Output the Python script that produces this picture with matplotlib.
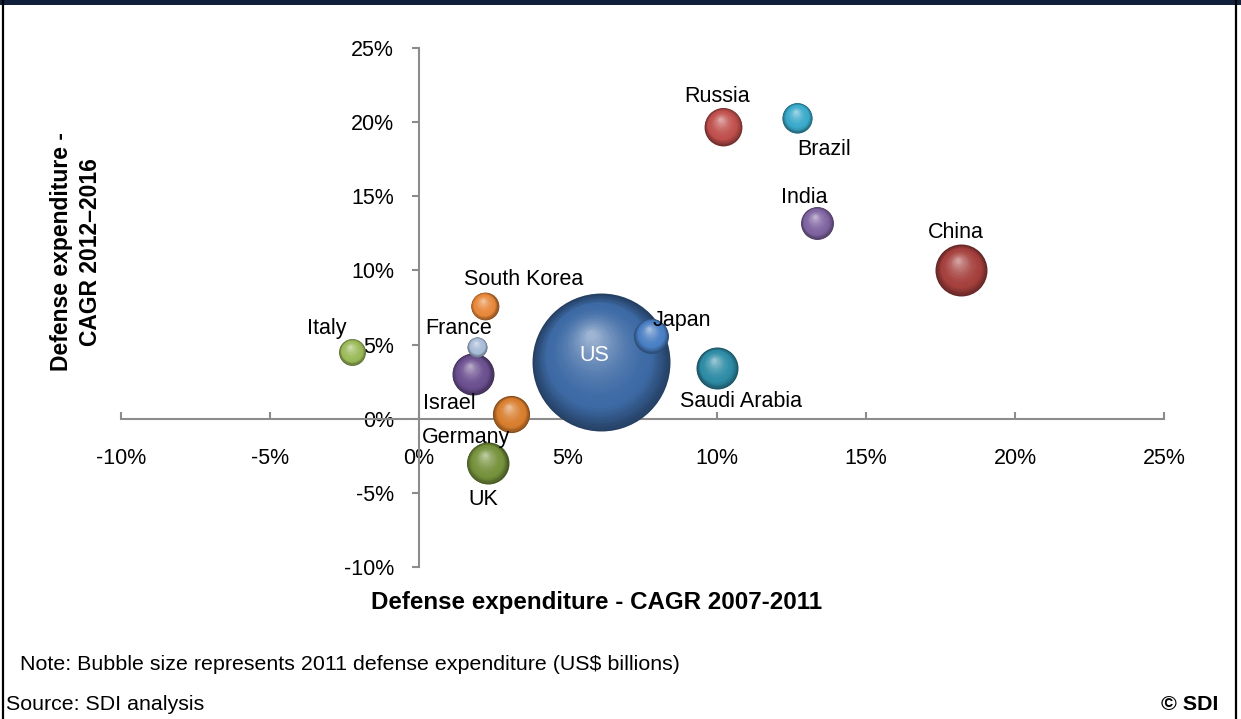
import matplotlib
matplotlib.use("Agg")
import matplotlib.pyplot as plt
import matplotlib.transforms as mtransforms
from matplotlib.colors import to_rgb
from matplotlib.patches import Rectangle
from matplotlib.lines import Line2D
import numpy as np

plt.rcParams['font.family'] = ['Liberation Sans', 'DejaVu Sans']

# ---------------------------------------------------------------
# Data: CAGR 2007-2011 (x), CAGR 2012-2016 (y), 2011 spend (US$ bn)
# ---------------------------------------------------------------
countries = ["US", "China", "Saudi Arabia", "UK", "Israel", "Russia", "Germany",
             "Japan", "India", "Brazil", "South Korea", "Italy", "France"]
cagr_2007_2011 = [6.1, 18.2, 10.0, 2.3, 1.8, 10.2, 3.1, 7.8, 13.35, 12.7, 2.2, -2.25, 1.95]
cagr_2012_2016 = [3.8, 10.0, 3.4, -3.0, 3.0, 19.7, 0.3, 5.6, 13.2, 20.3, 7.6, 4.5, 4.85]
spend_2011 = [690, 98, 64, 64, 64, 52, 50, 44, 39, 33, 28, 26, 14.5]

colors = ['#3d6aa5', '#a5403d', '#2e8ca6', '#76923c', '#6b4f8f', '#c0504d', '#d97e2e',
          '#4a7fc4', '#8064a2', '#3aaacb', '#e8883a', '#9bbb59', '#a8bcd8']

# label offsets in points from the bubble centre
label_offsets = {
    "US": (-5, 5), "China": (-4, 27), "Saudi Arabia": (17, -24), "UK": (-3, -26),
    "Israel": (-17, -21), "Russia": (-4, 22), "Germany": (-33, -17), "Japan": (22, 11),
    "India": (-9, 18), "Brazil": (19, -23), "South Korea": (28, 19), "Italy": (-18, 17),
    "France": (-13, 13),
}

ticks = [-10, -5, 0, 5, 10, 15, 20, 25]
AXIS_GREY = '#8c8c8c'
SIZE_SCALE = 14.3   # marker area (pt^2) per US$ bn


def mix(c1, c2, t):
    c1, c2 = np.array(to_rgb(c1)), np.array(to_rgb(c2))
    return tuple(c1 + (c2 - c1) * t)


def shade(base, t):
    """colour of a sphere layer: dark rim -> base -> light highlight"""
    dark = mix(base, '#000000', 0.4)
    light = mix(base, '#ffffff', 0.5)
    if t < 0.25:
        return mix(dark, base, t / 0.25)
    return mix(base, light, ((t - 0.25) / 0.75) ** 1.8)


def draw_bubble(ax, fig, x, y, s, base, n=40):
    r_pt = np.sqrt(s) / 2.0
    hx, hy = -0.15, 0.42   # highlight direction (fraction of radius)
    for k in range(n):
        t = k / (n - 1)
        f = 1.0 - 0.93 * t
        dx = (1.0 - f) * r_pt * hx
        dy = (1.0 - f) * r_pt * hy
        trans = mtransforms.offset_copy(ax.transData, fig=fig, x=dx, y=dy, units='points')
        ax.scatter([x], [y], s=s * f * f, color=shade(base, t), linewidths=0,
                   transform=trans, zorder=3)


fig = plt.figure(figsize=(12.41, 7.19), dpi=100)
ax = fig.add_axes([0.0975, 0.2114, 0.8405, 0.7218])
ax.set_xlim(-10, 25)
ax.set_ylim(-10, 25)

# axes crossing at the origin
for side in ('top', 'right'):
    ax.spines[side].set_visible(False)
ax.spines['left'].set_position(('data', 0))
ax.spines['bottom'].set_position(('data', 0))
for side in ('left', 'bottom'):
    ax.spines[side].set_color(AXIS_GREY)
    ax.spines[side].set_linewidth(1.5)

ax.set_xticks(ticks)
ax.set_yticks(ticks)
ax.set_xticklabels([f"{t}%" for t in ticks])
ax.set_yticklabels([f"{t}%" for t in ticks])
ax.tick_params(axis='x', direction='in', length=5, width=1.5, color=AXIS_GREY,
               labelsize=15.5, pad=21)
ax.tick_params(axis='y', direction='out', length=5, width=1.5, color=AXIS_GREY,
               labelsize=15.5, pad=13)
ax.patch.set_visible(False)

# bubbles, largest first so the small ones sit on top
for i in np.argsort(spend_2011)[::-1]:
    draw_bubble(ax, fig, cagr_2007_2011[i], cagr_2012_2016[i],
                spend_2011[i] * SIZE_SCALE, colors[i])

for i, name in enumerate(countries):
    ox, oy = label_offsets[name]
    ax.annotate(name, (cagr_2007_2011[i], cagr_2012_2016[i]), xytext=(ox, oy),
                textcoords='offset points', ha='center', va='center',
                fontsize=15.5, color='white' if name == "US" else 'black', zorder=5)

# axis titles
fig.text(597 / 1241, 1 - 603 / 719, "Defense expenditure - CAGR 2007-2011",
         ha='center', va='center', fontsize=17.4, fontweight='bold')
fig.text(76 / 1241, 1 - 252 / 719, "Defense expenditure -\nCAGR 2012\u20132016",
         ha='center', va='center', rotation=90, fontsize=16.5, fontweight='bold',
         multialignment='center', linespacing=1.3)

# footnotes
fig.text(20 / 1241, 1 - 665 / 719,
         "Note: Bubble size represents 2011 defense expenditure (US$ billions)",
         ha='left', va='center', fontsize=15.4)
fig.text(6 / 1241, 1 - 705 / 719, "Source: SDI analysis", ha='left', va='center',
         fontsize=15.4)
fig.text(1218 / 1241, 1 - 705 / 719, "\u00a9 SDI", ha='right', va='center',
         fontsize=15.4, fontweight='bold')

# frame: navy strip on top, black sides
fig.patches.append(Rectangle((0, 1 - 5 / 719), 1, 5 / 719, transform=fig.transFigure,
                             facecolor='#10203c', edgecolor='none'))
fig.lines.append(Line2D([3 / 1241, 3 / 1241], [0, 1], transform=fig.transFigure,
                        color='black', lw=1.6))
fig.lines.append(Line2D([1236 / 1241, 1236 / 1241], [0, 1], transform=fig.transFigure,
                        color='black', lw=1.6))

fig.savefig("out.png", dpi=100)
